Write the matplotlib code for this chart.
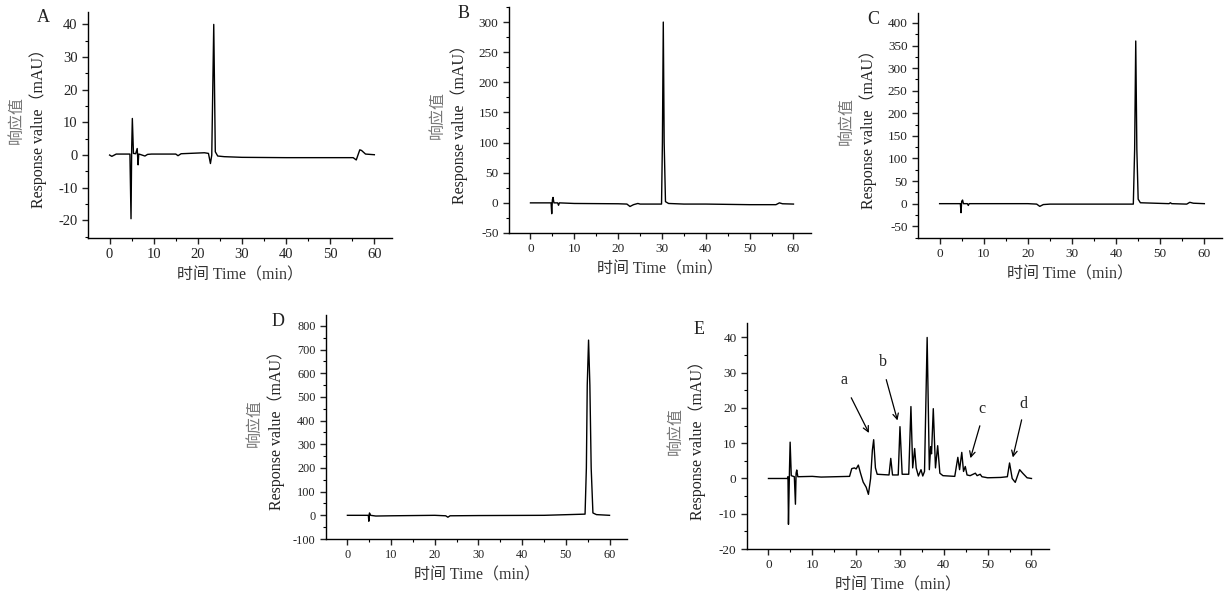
import matplotlib
matplotlib.use("Agg")
import matplotlib.pyplot as plt
from matplotlib.ticker import MultipleLocator

plt.rcParams['font.family'] = ['Liberation Serif', 'Noto Sans CJK SC']
plt.rcParams['axes.unicode_minus'] = False

# traces: time (min), response (mAU)
t_a = [0, 0.5, 1.5, 4.6, 4.85, 5.0, 5.15, 5.4, 5.9, 6.25, 6.45, 6.6, 6.9, 8.0, 8.6, 9.5,
       15.0, 15.5, 16.2, 21.5, 22.4, 22.85, 23.15, 23.6, 23.95, 24.5, 26, 30, 40, 55.2,
       55.9, 56.7, 57.1, 58.0, 60]
y_a = [0, -0.4, 0.3, 0.3, -19.5, 2, 11.2, 0.5, 0.4, 2, -3, 0.3, 0.2, -0.3, 0.2, 0.3,
       0.3, -0.2, 0.4, 0.7, 0.5, -2.6, 0, 40, 1, -0.3, -0.5, -0.7, -0.8, -0.8,
       -1.5, 1.6, 1.4, 0.3, 0.1]

t_b = [0, 4.7, 4.85, 5.0, 5.15, 5.35, 6.2, 6.4, 6.6, 10, 20, 22, 22.7, 23.5, 24.5, 25,
       29.9, 30.1, 30.3, 30.5, 30.8, 31.5, 35, 40, 50, 56, 56.8, 57.5, 60]
y_b = [0, 0, -18, 5, 9, 0, 0, -4, 0, -1, -1.5, -2, -6, -3, -1, -2,
       -2, 100, 300, 100, 2, -1, -2, -2, -3, -3, 0, -1.5, -2]

t_c = [0, 4.7, 4.85, 5.0, 5.2, 5.4, 6.3, 6.5, 6.7, 20, 22, 22.7, 23.5, 25,
       43.9, 44.2, 44.45, 44.7, 45.0, 45.5, 52, 52.3, 52.6, 56, 56.7, 57.5, 60]
y_c = [0, 0, -20, 5, 8, 0, 0, -4, 0, 0, -1, -6, -2, -1,
       -1, 120, 360, 120, 10, 2, 0, 2, 0, -1, 3, 1, 0]

t_d = [0, 4.8, 4.9, 5.05, 5.3, 6.5, 10, 20, 22.5, 23, 23.5, 30, 45,
       54.4, 54.7, 54.9, 55.2, 55.5, 55.8, 56.2, 57, 60]
y_d = [0, 0, -25, 10, 0, -3, -2, 0, -2, -8, -2, -1, 0,
       5, 200, 550, 740, 550, 200, 10, 3, 0]

t_e = [0, 4.3, 4.45, 4.56, 4.8, 4.94, 5.2, 5.9, 6.15, 6.3, 6.45, 6.7, 10, 12, 18.5,
       19.0, 19.6, 20.0, 20.5, 21.0, 21.6, 22.3, 22.8, 23.3, 23.7, 24.0, 24.4, 24.8,
       27.5, 27.9, 28.3, 29.6, 30.0, 30.5, 32.0, 32.5, 32.9, 33.35, 33.7, 34.2, 34.8,
       35.2, 35.6, 36.2, 36.7, 37.0, 37.2, 37.6, 38.1, 38.6, 39.1, 39.8, 42.5,
       43.2, 43.6, 44.1, 44.5, 44.9, 45.3, 46.0, 47.2, 47.6, 48.3, 48.7, 50, 53,
       54.5, 55.0, 55.6, 56.3, 57.3, 58.0, 59.0, 60]
y_e = [0, 0, 0.5, -13, 3, 10.3, 0.8, 0.5, -7.3, 1.5, 2.4, 0.5, 0.6, 0.4, 0.6,
       2.8, 3.0, 2.7, 3.8, 1.5, -1.0, -2.5, -4.5, 0, 8, 11, 3, 1.2,
       1.0, 5.7, 1.0, 1.0, 14.7, 1.2, 1.2, 20.4, 3, 8.5, 3, 0.7, 2.5,
       0.7, 2, 40, 2.5, 9, 7, 19.8, 3, 9.3, 1.5, 0.8, 0.6,
       6, 2.5, 7.4, 2, 3.4, 1, 0.8, 1.5, 0.8, 1.2, 0.5, 0.2, 0.3,
       0.5, 4.4, 0, -1.1, 2.5, 1.5, 0.2, 0]

# arrows on panel E: label, text position, arrow start, arrow tip
e_labels = ['a', 'b', 'c', 'd']
e_text = [(17.2, 27.8), (26.0, 33.0), (48.6, 19.8), (58.2, 21.2)]
e_tail = [(18.6, 23.6), (26.7, 28.8), (48.4, 15.7), (57.9, 17.4)]
e_tip = [(23.2, 12.2), (29.6, 15.7), (45.9, 5.0), (55.6, 5.2)]

panels = [
    # letter, t, y, rect (px: left, top, right, bottom), ylim, y major, y minor, tick size
    ('A', t_a, y_a, (88, 12, 392, 238), (-25.4, 43.8), 10, 5, 10.5),
    ('B', t_b, y_b, (509, 7, 811, 233), (-50, 325), 50, 25, 9.5),
    ('C', t_c, y_c, (918, 13, 1222, 238), (-76, 422), 50, 25, 9.5),
    ('D', t_d, y_d, (326, 315, 627, 539), (-100, 846), 100, 50, 8.8),
    ('E', t_e, y_e, (747, 323, 1049, 549), (-20, 44.1), 10, 5, 9.5),
]

W, H = 1230, 595
fig = plt.figure(figsize=(12.3, 5.95), dpi=100)

for letter, t, y, (l, tp, r, b), ylim, ymaj, ymin, fs in panels:
    ax = fig.add_axes([l / W, 1 - b / H, (r - l) / W, (b - tp) / H])
    ax.plot(t, y, color='black', lw=1.0)
    ax.set_xlim(-4.9, 64)
    ax.set_ylim(*ylim)
    ax.xaxis.set_major_locator(MultipleLocator(10))
    ax.xaxis.set_minor_locator(MultipleLocator(5))
    ax.yaxis.set_major_locator(MultipleLocator(ymaj))
    ax.yaxis.set_minor_locator(MultipleLocator(ymin))
    ax.spines['right'].set_color('none')
    ax.spines['top'].set_color('none')
    for s in ('left', 'bottom'):
        ax.spines[s].set_linewidth(1.0)
    ax.tick_params(which='major', direction='out', length=4, width=1.0,
                   labelsize=fs, colors='#222222')
    ax.tick_params(which='minor', direction='out', length=2.5, width=0.8)
    ax.set_xlabel('时间 Time（min）', fontsize=11.5, color='#333333', labelpad=4)
    # two-line y label: Chinese in grey, English in black
    ax.text(-50 / (r - l), 0.5, 'Response value（mAU）', transform=ax.transAxes,
            rotation=90, ha='center', va='center', fontsize=11.5, color='#222222')
    ax.text(-71 / (r - l), 0.52, '响应值', transform=ax.transAxes,
            rotation=90, ha='center', va='center', fontsize=11.5, color='#777777')
    ax.text(-45 / (r - l) if letter in 'ABC' else -48 / (r - l),
            1 - 6 / (b - tp), letter, transform=ax.transAxes,
            ha='center', va='center', fontsize=13, color='#222222')
    if letter == 'E':
        for lab, tx, tl, tip in zip(e_labels, e_text, e_tail, e_tip):
            ax.text(tx[0], tx[1], lab, ha='center', va='center', fontsize=11.5,
                    color='#222222')
            ax.annotate('', xy=tip, xytext=tl,
                        arrowprops=dict(arrowstyle='->', color='black', lw=0.9))

fig.savefig('out.png', dpi=100)
